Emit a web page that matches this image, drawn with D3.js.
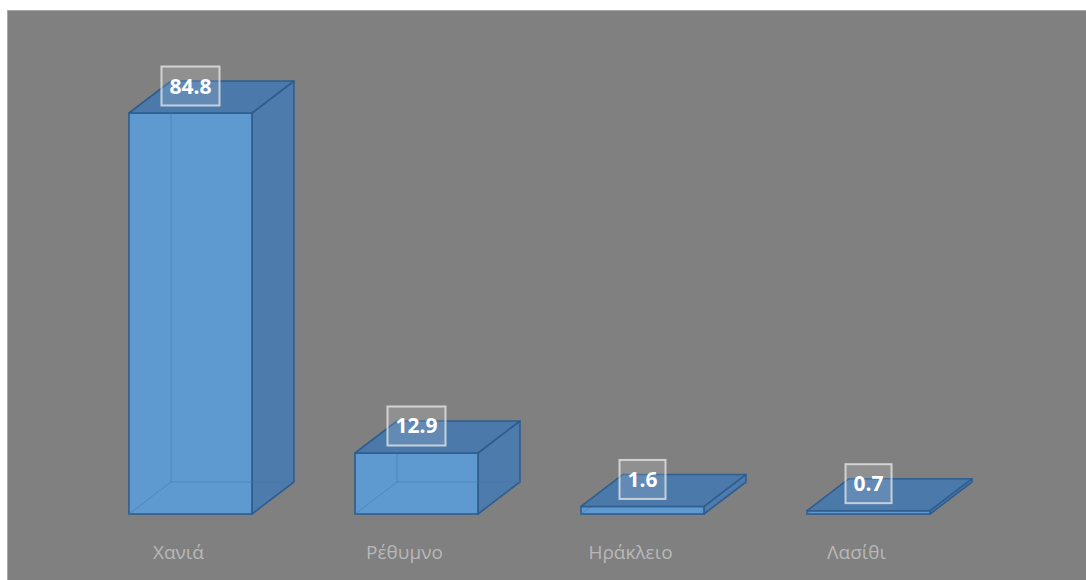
<!DOCTYPE html>
<html><head><meta charset="utf-8">
<script src="https://cdn.jsdelivr.net/npm/d3@7/dist/d3.min.js"></script>
<style>html,body{margin:0;padding:0;background:#fff;}svg{display:block;}</style>
</head><body>
<svg id="c" width="1086" height="580"></svg>
<script>
const categories = ["Χανιά", "Ρέθυμνο", "Ηράκλειο", "Λασίθι"];
const values = [84.8, 12.9, 1.6, 0.7];
const valueLabels = ["84.8", "12.9", "1.6", "0.7"];

const svg = d3.select("#c");
const W = 1086, H = 580;
svg.append("rect").attr("x", 7).attr("y", 10).attr("width", W - 7).attr("height", H - 10)
  .attr("fill", "#808080");
svg.append("line").attr("x1", 7).attr("y1", 10.5).attr("x2", W).attr("y2", 10.5).attr("stroke", "#a8a8a8").attr("stroke-width", 1);
svg.append("line").attr("x1", 7.5).attr("y1", 10).attr("x2", 7.5).attr("y2", H).attr("stroke", "#a8a8a8").attr("stroke-width", 1);

const x = d3.scaleBand().domain(categories).range([129, 930]).paddingInner(0.456).paddingOuter(0);
const y = d3.scaleLinear().domain([0, 84.8]).range([514, 113]);
const dx = 42, dy = -32;

const g = svg.append("g");
const data = categories.map((c, i) => ({c, v: values[i], lab: valueLabels[i]}));

const bars = g.selectAll("g.bar").data(data).join("g").attr("class", "bar");
const edge = "#2e5d8e";

bars.each(function(d) {
  const s = d3.select(this);
  const x0 = x(d.c), x1 = x(d.c) + x.bandwidth();
  const y0 = y(0), yt = y(d.v);
  s.append("polygon")
    .attr("points", [[x0 + dx, yt + dy], [x1 + dx, yt + dy], [x1 + dx, y0 + dy], [x0 + dx, y0 + dy]].join(" "))
    .attr("fill", "#4f82b5");
  s.append("polygon")
    .attr("points", [[x1, yt], [x1 + dx, yt + dy], [x1 + dx, y0 + dy], [x1, y0]].join(" "))
    .attr("fill", "#4d7bab").attr("stroke", edge).attr("stroke-width", 1.6).attr("stroke-linejoin", "round");
  s.append("rect").attr("x", x0).attr("y", yt).attr("width", x1 - x0).attr("height", y0 - yt)
    .attr("fill", "#5e99cf").attr("stroke", edge).attr("stroke-width", 1.6);
  const hid = "rgba(70,120,170,0.55)";
  s.append("path")
    .attr("d", `M${x0},${y0}L${x0 + dx},${y0 + dy}L${x1 + dx},${y0 + dy}M${x0 + dx},${y0 + dy}L${x0 + dx},${yt + dy}`)
    .attr("fill", "none").attr("stroke", hid).attr("stroke-width", 1);
  s.append("polygon")
    .attr("points", [[x0, yt], [x1, yt], [x1 + dx, yt + dy], [x0 + dx, yt + dy]].join(" "))
    .attr("fill", "#4b79a9").attr("stroke", edge).attr("stroke-width", 1.6).attr("stroke-linejoin", "round");
});

bars.each(function(d) {
  const s = d3.select(this);
  const cx = x(d.c) + x.bandwidth() / 2;
  const cy = y(d.v) - 27;
  const t = s.append("text").attr("x", cx).attr("y", cy + 7.5)
    .attr("text-anchor", "middle")
    .attr("font-family", "'Open Sans', 'DejaVu Sans', sans-serif")
    .attr("font-weight", "bold").attr("font-size", 21).attr("fill", "#ffffff")
    .text(d.lab);
  const bw = t.node().getComputedTextLength() + 16;
  s.insert("rect", "text").attr("x", cx - bw / 2).attr("y", cy - 19.5).attr("width", bw).attr("height", 39)
    .attr("fill", "rgba(255,255,255,0.13)").attr("stroke", "rgba(235,235,235,0.75)").attr("stroke-width", 2);
});

g.selectAll("text.cat").data(data).join("text").attr("class", "cat")
  .attr("x", d => x(d.c) + x.bandwidth() / 2 - 12)
  .attr("y", 559)
  .attr("text-anchor", "middle")
  .attr("font-family", "'Open Sans', 'DejaVu Sans', sans-serif")
  .attr("font-size", 19).attr("fill", "#b8b8b8")
  .text(d => d.c);
</script>
</body></html>
